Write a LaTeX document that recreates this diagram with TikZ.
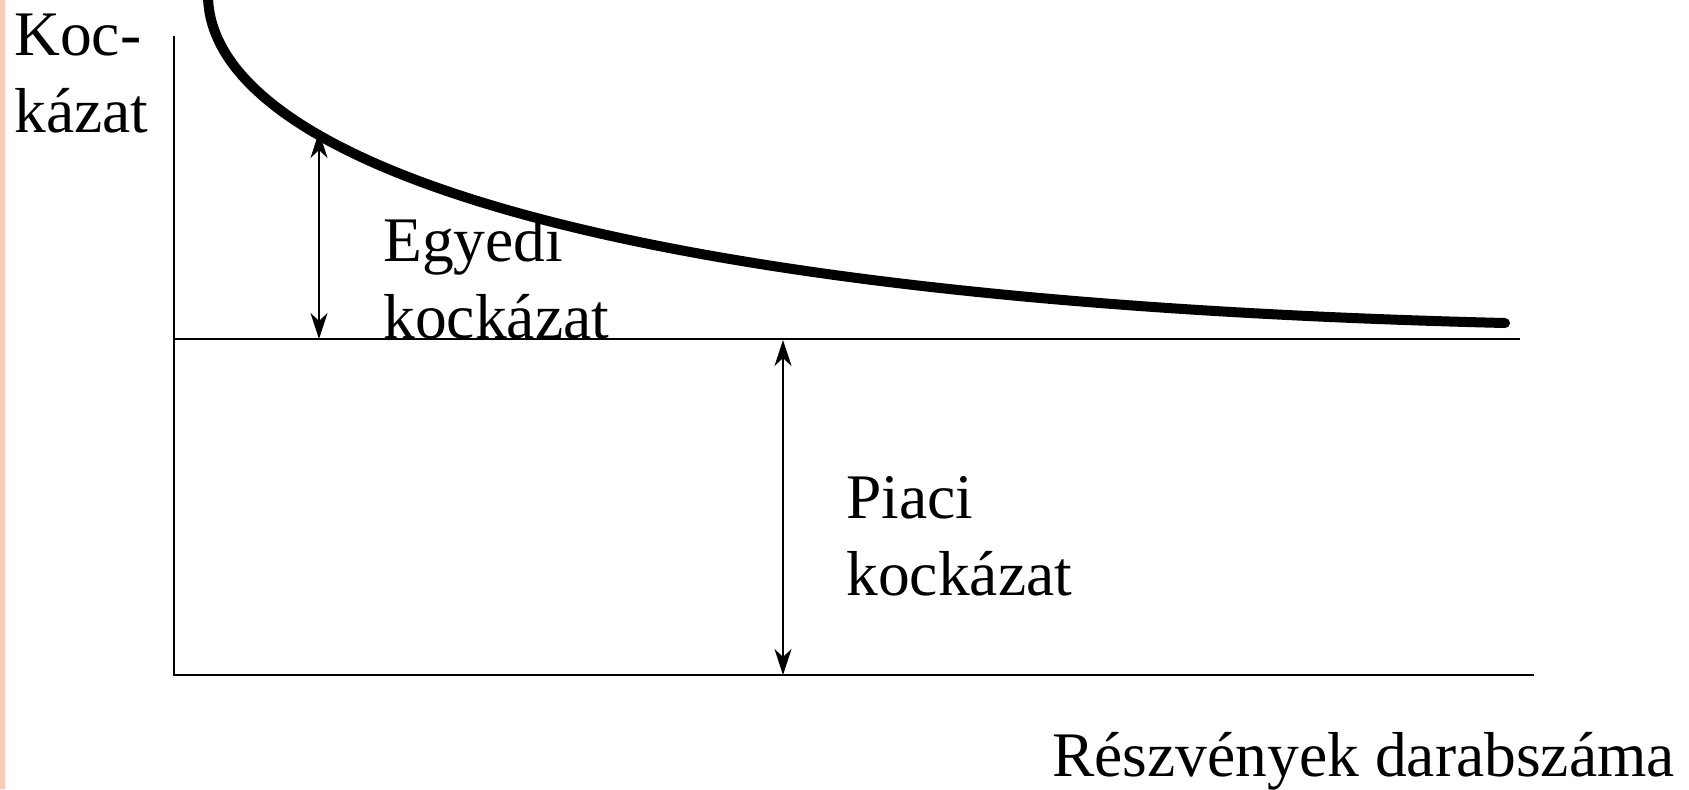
\documentclass[tikz,border=0pt]{standalone}
\usepackage{fontspec}
\setmainfont{Liberation Serif}
\usetikzlibrary{arrows.meta}
\definecolor{slidepink}{RGB}{252,200,186}

\begin{document}
\begin{tikzpicture}[x=0.5pt, y=-0.5pt,
  axis/.style={black, line width=1.3pt},
  gap/.style={black, line width=1.2pt, {Stealth[length=13pt,width=8.5pt,inset=4pt]}-{Stealth[length=13pt,width=8.5pt,inset=4pt]}},
  lbl/.style={font=\fontsize{31.75}{38.5}\selectfont, align=left, inner sep=0pt, anchor=base west}]
  \useasboundingbox (0,0) rectangle (1689,789);
  \fill[slidepink] (0,0) rectangle (5,789);
  % axes and market level
  \draw[axis] (174,36) -- (174,675) -- (1534,675);
  \draw[axis, line width=1pt] (174,339) -- (1520,339);
  % total risk curve
  \draw[black, line width=5pt, line cap=round] (208,-4) .. controls (210,150) and (560,300) .. (1505,323);
  % arrow end points
  \coordinate (egytop) at (319,132);
  \coordinate (egybot) at (319,339);
  \coordinate (piatop) at (783,340);
  \coordinate (piabot) at (783,675);
  \draw[gap] (egytop) -- (egybot);
  \draw[gap] (piatop) -- (piabot);
  % labels (base = last line)
  \node[lbl] (ylabel) at (14,132) {Koc-\\kázat};
  \node[lbl] (egyedi) at (383,338) {Egyedi\\kockázat};
  \node[lbl] (piaci) at (846,595) {Piaci\\kockázat};
  \node[lbl] (xlabel) at (1052,776) {Részvények darabszáma};
\end{tikzpicture}
\end{document}
